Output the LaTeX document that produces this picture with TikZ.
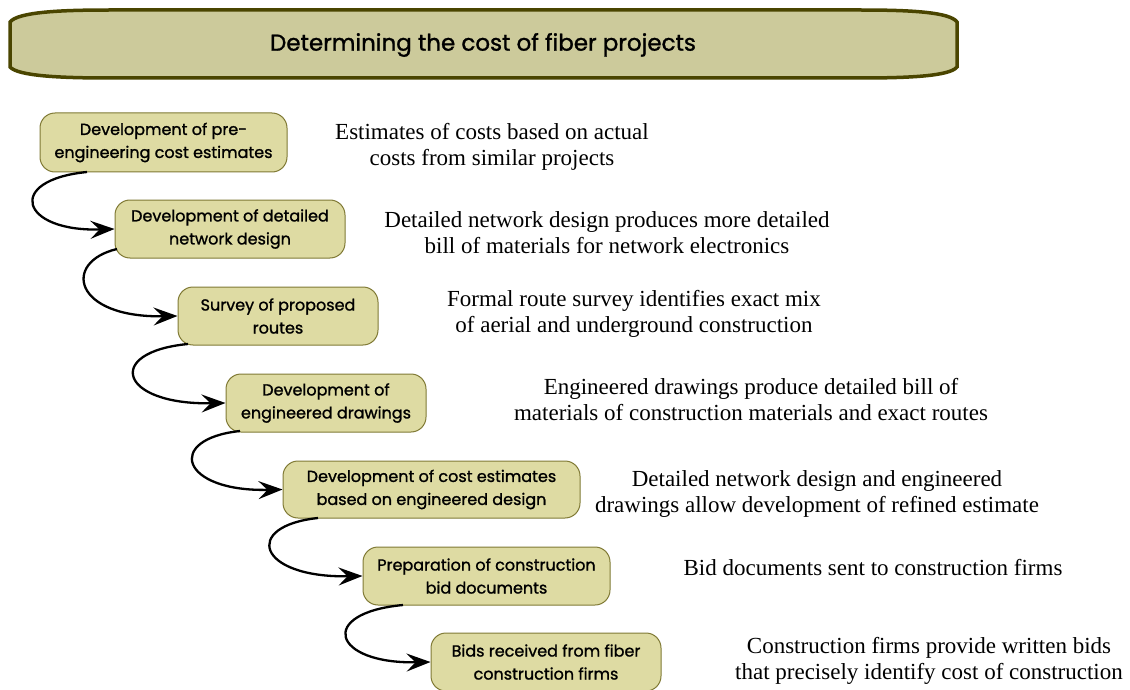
\documentclass[tikz,border=0pt]{standalone}
\usepackage{fontspec}
\setmainfont{Liberation Serif}
\newfontfamily\boxfont{Poppins}[FakeBold=1.2]
\usetikzlibrary{arrows.meta}
\definecolor{boxfill}{HTML}{DEDBA3}
\definecolor{boxline}{HTML}{807A35}
\definecolor{titlefill}{HTML}{CCCA9B}
\definecolor{titleline}{HTML}{4A4500}
\tikzset{
  x=1pt, y=-1pt,
  stepbox/.style={draw=boxline, line width=1pt, fill=boxfill, rounded corners=15pt,
    align=center, inner sep=2pt, font=\boxfont\fontsize{16}{23}\selectfont},
  desc/.style={align=center, font=\fontsize{23}{26}\selectfont, inner sep=0pt},
  flow/.style={line width=2.3pt, -{Stealth[length=24pt,width=18pt,inset=9pt]}},
}
\begin{document}
\begin{tikzpicture}
\useasboundingbox (0,0) rectangle (1130,690);
% title bar
\draw[fill=titlefill, draw=titleline, line width=3.5pt]
  (10,22) .. controls (18,12) and (60,10) .. (110,10) -- (860,10)
  .. controls (910,10) and (950,12) .. (957,22) -- (957,67)
  .. controls (950,76) and (910,78) .. (860,78) -- (110,78)
  .. controls (60,78) and (18,76) .. (10,67) -- cycle;
\node[font=\boxfont\fontsize{23}{28}\selectfont] (title) at (483,45) {Determining the cost of fiber projects};

% steps
\node[stepbox, minimum width=247pt, minimum height=59pt] (b1) at (163.5,142.5) {Development of pre-\\engineering cost estimates};
\node[stepbox, minimum width=230pt, minimum height=58pt] (b2) at (230,229) {Development of detailed\\network design};
\node[stepbox, minimum width=200pt, minimum height=58pt] (b3) at (278,316) {Survey of proposed\\routes};
\node[stepbox, minimum width=200pt, minimum height=58pt] (b4) at (326,403) {Development of\\engineered drawings};
\node[stepbox, minimum width=297pt, minimum height=57pt] (b5) at (431.5,489.5) {Development of cost estimates\\based on engineered design};
\node[stepbox, minimum width=247pt, minimum height=58pt] (b6) at (486.5,576) {Preparation of construction\\bid documents};
\node[stepbox, minimum width=230pt, minimum height=58pt] (b7) at (546,662) {Bids received from fiber\\construction firms};

% descriptions
\node[desc] (d1) at (492,146.5) {Estimates of costs based on actual\\costs from similar projects};
\node[desc] (d2) at (607,232.5) {Detailed network design produces more detailed\\bill of materials for network electronics};
\node[desc] (d3) at (634,313.5) {Formal route survey identifies exact mix\\of aerial and underground construction};
\node[desc] (d4) at (751,399.5) {Engineered drawings produce detailed bill of\\materials of construction materials and exact routes};
\node[desc] (d5) at (817,493.5) {Detailed network design and engineered\\drawings allow development of refined estimate};
\node[desc] (d6) at (873,568) {Bid documents sent to construction firms};
\node[desc] (d7) at (929,660.5) {Construction firms provide written bids\\that precisely identify cost of construction};

% connectors
\coordinate (s1) at (87,172);
\coordinate (s2) at (117,249);
\coordinate (s3) at (188,344);
\coordinate (s4) at (240,431);
\coordinate (s5) at (318,518);
\coordinate (s6) at (403,605);
\draw[flow] (s1) .. controls (5,180) and (20,232) .. (b2.west);
\draw[flow] (s2) .. controls (62,262) and (73,318) .. (b3.west);
\draw[flow] (s3) .. controls (104,352) and (119,405) .. (b4.west);
\draw[flow] (s4) .. controls (165,439) and (180,492) .. (b5.west);
\draw[flow] (s5) .. controls (242,526) and (257,578) .. (b6.west);
\draw[flow] (s6) .. controls (317,613) and (332,664) .. (b7.west);
\end{tikzpicture}
\end{document}
